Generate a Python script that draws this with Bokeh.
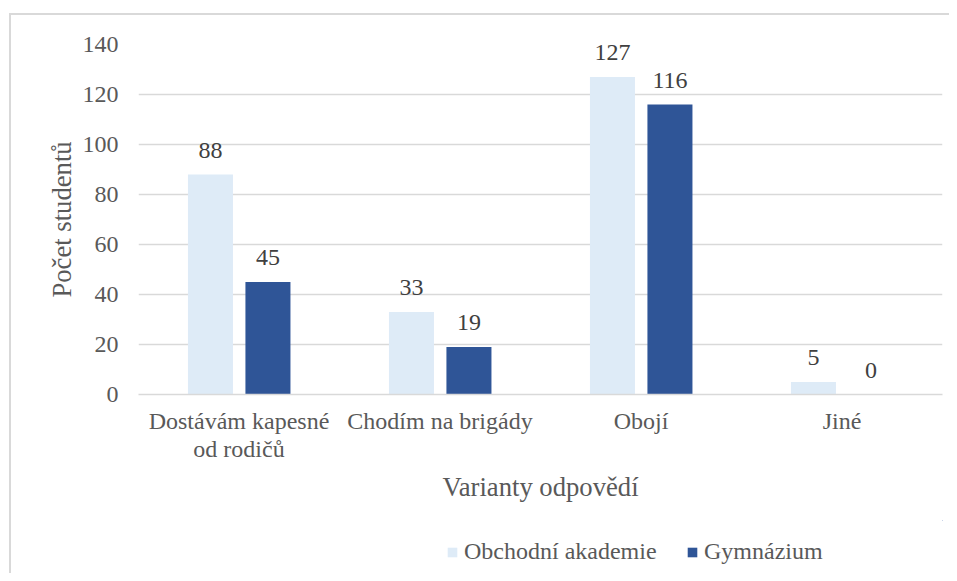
from bokeh.plotting import figure
from bokeh.layouts import column
from bokeh.models import (ColumnDataSource, Range1d, FixedTicker, LabelSet,
                          Legend, LegendItem, LinearAxis)
from bokeh.core.properties import value
from bokeh.transform import dodge
from bokeh.embed import file_html
from bokeh.resources import INLINE

categories = ["Dostávám kapesné od rodičů", "Chodím na brigády", "Obojí", "Jiné"]
label_line1 = ["Dostávám kapesné", "Chodím na brigády", "Obojí", "Jiné"]
label_line2 = ["od rodičů", "", "", ""]
obchodni = [88, 33, 127, 5]
gymnazium = [45, 19, 116, 0]
series_names = ["Obchodní akademie", "Gymnázium"]
y_ticks = [0, 20, 40, 60, 80, 100, 120, 140]

FONT = "Liberation Serif"
FONT_Q = "'Liberation Serif', serif"
LIGHT = "#DEEBF7"
DARK = "#2F5597"
GREY = "#595959"
BORDER = "#D9D9D9"

pos = [i + 0.5 for i in range(len(categories))]

src = ColumnDataSource(dict(
    cat=categories,
    pos=pos,
    oa=obchodni,
    gy=gymnazium,
    oa_txt=[str(v) for v in obchodni],
    gy_txt=[str(v) for v in gymnazium],
))

# ---------------- main chart ----------------
p = figure(x_range=Range1d(0, len(categories)), y_range=Range1d(0, 140),
           width=949, height=520, frame_width=804, frame_height=350,
           output_backend="svg", toolbar_location=None,
           min_border_left=138, min_border_right=7, min_border_top=44, min_border_bottom=126)
p.outline_line_color = None
p.background_fill_color = "white"
p.border_fill_alpha = 0
p.styles = {
    "background": f"linear-gradient({BORDER}, {BORDER}) 9px 13px / 2px 100% no-repeat, "
                  f"linear-gradient({BORDER}, {BORDER}) 9px 13px / 100% 2px no-repeat, white"
}

w = 0.224
r1 = p.vbar(x=dodge("pos", -0.142), top="oa", width=w, source=src,
            fill_color=LIGHT, line_color=None)
r2 = p.vbar(x=dodge("pos", 0.144), top="gy", width=w, source=src,
            fill_color=DARK, line_color=None)

for col, off in (("oa", -0.142), ("gy", 0.144)):
    p.add_layout(LabelSet(x=dodge("pos", off), y=col, text=col + "_txt",
                          source=src, text_align="center", text_baseline="alphabetic",
                          y_offset=17, text_font=value(FONT_Q), text_font_size=value("24px"),
                          text_color="#404040"))

# y axis
p.yaxis.ticker = FixedTicker(ticks=y_ticks)
p.yaxis.axis_line_color = None
p.yaxis.major_tick_line_color = None
p.yaxis.minor_tick_line_color = None
p.yaxis.major_label_standoff = 14
p.yaxis.major_label_text_font = FONT_Q
p.yaxis.major_label_text_font_size = "24px"
p.yaxis.major_label_text_color = GREY
p.yaxis.axis_label = "Počet studentů"
p.yaxis.axis_label_text_font = FONT
p.yaxis.axis_label_text_font_size = "26.67px"
p.yaxis.axis_label_text_font_style = "normal"
p.yaxis.axis_label_text_color = GREY
p.yaxis.axis_label_standoff = 3

# x axis, first line of category labels
xa = p.xaxis[0]
xa.ticker = FixedTicker(ticks=pos)
xa.major_label_overrides = dict(zip(pos, label_line1))
xa.axis_line_color = BORDER
xa.axis_line_width = 1.5
xa.major_tick_line_color = None
xa.minor_tick_line_color = None
xa.major_label_standoff = 7
xa.major_label_text_font = FONT_Q
xa.major_label_text_font_size = "24px"
xa.major_label_text_color = GREY

# second line of category labels + axis title
xa2 = LinearAxis(ticker=FixedTicker(ticks=pos),
                 major_label_overrides=dict(zip(pos, label_line2)),
                 axis_line_color=None, major_tick_line_color=None,
                 minor_tick_line_color=None, major_label_standoff=-7,
                 major_label_text_font=FONT_Q, major_label_text_font_size="24px",
                 major_label_text_color=GREY,
                 axis_label="Varianty odpovědí", axis_label_text_font=FONT,
                 axis_label_text_font_size="26.67px", axis_label_text_font_style="normal",
                 axis_label_text_color=GREY, axis_label_standoff=7)
p.add_layout(xa2, "below")

p.xgrid.grid_line_color = None
p.ygrid.grid_line_color = BORDER
p.ygrid.grid_line_width = 1.5

# ---------------- legend strip ----------------
p2 = figure(width=949, height=53, x_range=Range1d(-100, -99), y_range=Range1d(-100, -99),
            output_backend="svg", toolbar_location=None,
            x_axis_location=None, y_axis_location=None,
            min_border_left=0, min_border_right=0, min_border_top=0, min_border_bottom=0)
p2.outline_line_color = None
p2.background_fill_alpha = 0
p2.border_fill_alpha = 0
p2.grid.visible = False
p2.styles = {
    "background": f"linear-gradient({BORDER}, {BORDER}) 9px 0px / 2px 100% no-repeat, white"
}
k1 = p2.vbar(x="pos", top="oa", width=w, source=src, fill_color=LIGHT, line_color=None)
k2 = p2.vbar(x="pos", top="gy", width=w, source=src, fill_color=DARK, line_color=None)

legend = Legend(items=[LegendItem(label=series_names[0], renderers=[k1]),
                       LegendItem(label=series_names[1], renderers=[k2])],
                orientation="horizontal", location=(308, 8),
                glyph_width=12, glyph_height=12, label_standoff=6, spacing=16,
                label_width=206, padding=0, margin=0, border_line_color=None,
                background_fill_alpha=0,
                label_text_font=FONT_Q, label_text_font_size="24px",
                label_text_color=GREY)
p2.add_layout(legend, "center")

layout = column(p, p2, spacing=0)

open("out.html", "w").write(file_html(layout, INLINE))
